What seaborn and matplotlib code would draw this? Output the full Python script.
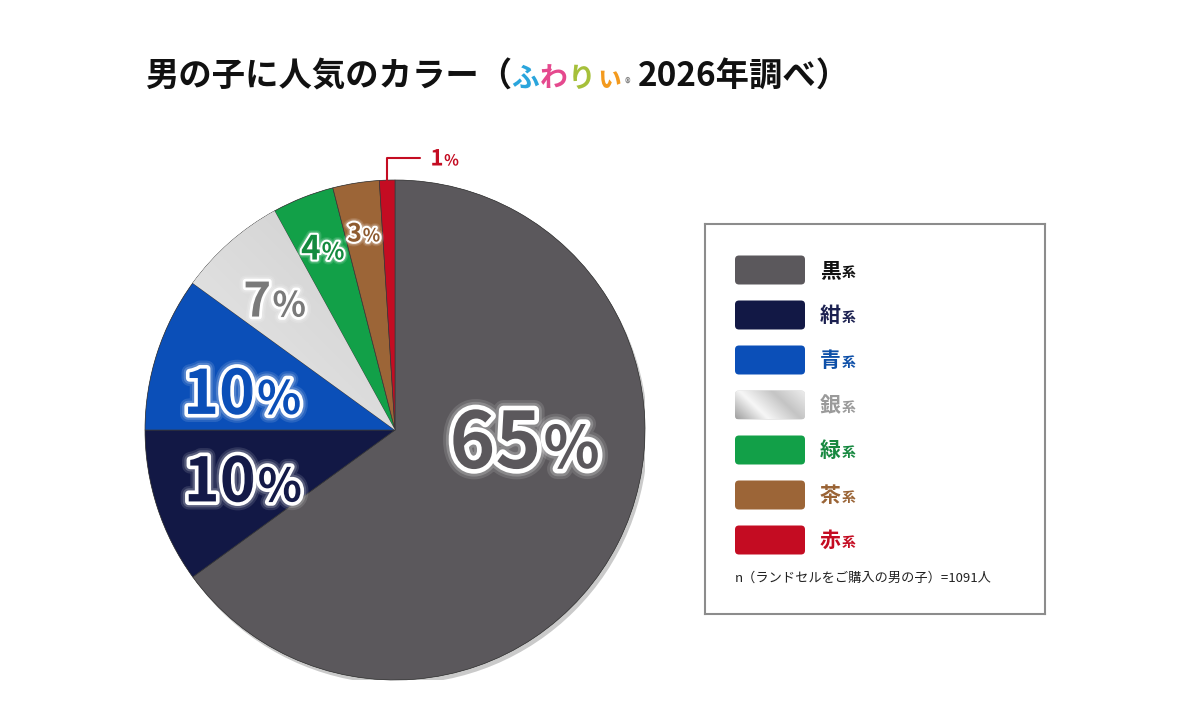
import numpy as np
import matplotlib
matplotlib.use('Agg')
import matplotlib.pyplot as plt
import matplotlib.patheffects as pe
from matplotlib.patches import FancyBboxPatch, Circle
from matplotlib.colors import LinearSegmentedColormap
from matplotlib.transforms import offset_copy
import seaborn as sns

# chart data
categories = ['黒', '紺', '青', '銀', '緑', '茶', '赤']
shares = [65, 10, 10, 7, 4, 3, 1]
slice_colors = ['#5b585c', '#121845', '#0b4fb8', '#d3d3d3', '#12a048', '#9c6537', '#c40c22']
label_colors = ['#5b585c', '#141a48', '#0b4fb8', '#7a7a7a', '#138a3e', '#8e5a2f', '#c40c22']
legend_text_colors = ['#111111', '#1b2050', '#0d4fa8', '#9a9a9a', '#16883f', '#9a6436', '#c40c22']
title_head = '男の子に人気のカラー（'
brand_chars = ['ふ', 'わ', 'り', 'ぃ']
brand_colors = ['#2aa5dc', '#e5498e', '#a6c03a', '#f39a1e']
title_tail = '2026年調べ）'
note = 'n（ランドセルをご購入の男の子）=1091人'

# label layout (radius from centre, angle shift in degrees, font sizes)
label_r = [0.52, 0.64, 0.63, 0.71, 0.785, 0.80]
label_shift = [22.6, 0, 4, 1.3, 0, 0]
num_sizes = [56, 44, 44, 34, 24, 18, 16]
pct_sizes = [42, 33, 33, 25, 17, 13, 11]

sns.set_theme(style='white')
plt.rcParams['font.family'] = ['Noto Sans CJK JP', 'DejaVu Sans']
NUM_FONT = ['Noto Sans CJK JP', 'DejaVu Sans']

W, H = 1180, 728
fig = plt.figure(figsize=(W / 100, H / 100), dpi=100)
fig.patch.set_facecolor('white')
renderer = fig.canvas.get_renderer()

# title; CJK glyphs are full width, so step by em
TSIZE = 24
em = TSIZE * 100 / 72
x_px, base_px = 145, 87


def title_piece(x, s, col, size, dy=0):
    fig.text(x / W, 1 - (base_px + dy) / H, s, color=col, fontsize=size,
             fontweight='bold', ha='left', va='baseline')


title_piece(x_px, title_head, '#111111', TSIZE)
x_px += len(title_head) * em
for c, col in zip(brand_chars, brand_colors):
    title_piece(x_px, c, col, 20)
    x_px += 28
title_piece(x_px + 1, '®', '#888888', 8)
x_px += 14
title_piece(x_px, title_tail, '#111111', TSIZE)

# pie
ax = fig.add_axes([145 / W, 48 / H, 500 / W, 500 / H])
back = Circle((0, 0), 1.0, facecolor='#2e2e2e', edgecolor='none', zorder=0.5,
              path_effects=[pe.SimplePatchShadow(offset=(2, -3), alpha=0.22), pe.Normal()])
ax.add_patch(back)
wedges, _ = ax.pie(shares, colors=slice_colors, startangle=90, counterclock=False,
                   radius=1, wedgeprops=dict(edgecolor='#3a3a3a', linewidth=0.5))
for w in wedges:
    w.set_zorder(1)

# silver sheen on the silver slice
silver = LinearSegmentedColormap.from_list('silver', ['#bdbdbd', '#e6e6e6', '#d2d2d2', '#c6c6c6'])
g = np.outer(np.linspace(1, 0, 64), np.ones(64)) * 0.5 + np.outer(np.ones(64), np.linspace(0, 1, 64)) * 0.5
im = ax.imshow(g, cmap=silver, extent=(-1, 1, -1, 1), zorder=1.5, interpolation='bicubic')
im.set_clip_path(wedges[3])
ax.set_xlim(-1, 1)
ax.set_ylim(-1, 1)
ax.axis('off')


def pct_label(x, y, num, nsize, psize, color):
    lw = max(nsize * 0.12, 3)
    effects = [pe.Stroke(linewidth=lw * 2.2, foreground='white', alpha=0.12),
               pe.Stroke(linewidth=lw * 1.6, foreground='white', alpha=0.2),
               pe.Stroke(linewidth=lw, foreground='white'), pe.Normal()]
    kw = dict(color=color, ha='left', va='baseline', family=NUM_FONT,
              fontweight='bold', fontstyle='normal', path_effects=effects, zorder=5, clip_on=False)
    t1 = ax.text(x, y, num, fontsize=nsize, **kw)
    t2 = ax.text(x, y, '%', fontsize=psize, **kw)
    w1 = t1.get_window_extent(renderer).width
    w2 = t2.get_window_extent(renderer).width
    gap = nsize * 0.04
    total = w1 + w2 + gap
    dy = -nsize * 0.72 * (100 / 72) / 2
    t1.set_transform(offset_copy(ax.transData, x=-total / 2, y=dy, units='dots'))
    t2.set_transform(offset_copy(ax.transData, x=w1 + gap - total / 2, y=dy, units='dots'))


for i, w in enumerate(wedges[:-1]):
    ang = np.deg2rad((w.theta1 + w.theta2) / 2 + label_shift[i])
    pct_label(label_r[i] * np.cos(ang), label_r[i] * np.sin(ang), str(shares[i]),
              num_sizes[i], pct_sizes[i], label_colors[i])

# smallest slice gets a leader line
w = wedges[-1]
ang = np.deg2rad((w.theta1 + w.theta2) / 2)
px, py = np.cos(ang), np.sin(ang)
ax.plot([px, px, px + 0.13], [py, 1.09, 1.09], color=slice_colors[-1], lw=1.5,
        clip_on=False, zorder=4)
pct_label(px + 0.23, 1.09, str(shares[-1]), num_sizes[-1], pct_sizes[-1], label_colors[-1])

# legend box
lax = fig.add_axes([705 / W, (H - 614) / H, 340 / W, 390 / H])
lax.set_xticks([])
lax.set_yticks([])
for s in lax.spines.values():
    s.set_color('#8c8c8c')
    s.set_linewidth(1.5)

for i, cat in enumerate(categories):
    y = 46 + 45 * i
    box = FancyBboxPatch((30, y - 14.5), 70, 29, boxstyle='round,pad=0,rounding_size=4',
                         facecolor=slice_colors[i], edgecolor='none')
    lax.add_patch(box)
    if cat == '銀':
        sw = LinearSegmentedColormap.from_list('sw', ['#a0a0a0', '#f7f7f7', '#c4c4c4', '#ededed'])
        gg = np.outer(np.ones(32), np.linspace(0, 1, 64)) * 0.7 + np.outer(np.linspace(1, 0, 32), np.ones(64)) * 0.3
        gi = lax.imshow(gg, cmap=sw, extent=(30, 100, y + 14.5, y - 14.5), zorder=2,
                        interpolation='bicubic', aspect='auto')
        gi.set_clip_path(box)
    lax.text(115, y + 7, cat, fontsize=15, fontweight='bold', color=legend_text_colors[i],
             va='baseline', ha='left')
    lax.text(137, y + 7, '系', fontsize=10, fontweight='bold', color=legend_text_colors[i],
             va='baseline', ha='left')
lax.set_xlim(0, 340)
lax.set_ylim(390, 0)

lax.text(30, 354, note, fontsize=9.5, color='#222222', va='center', ha='left')

fig.savefig('out.png', dpi=100, facecolor='white')
